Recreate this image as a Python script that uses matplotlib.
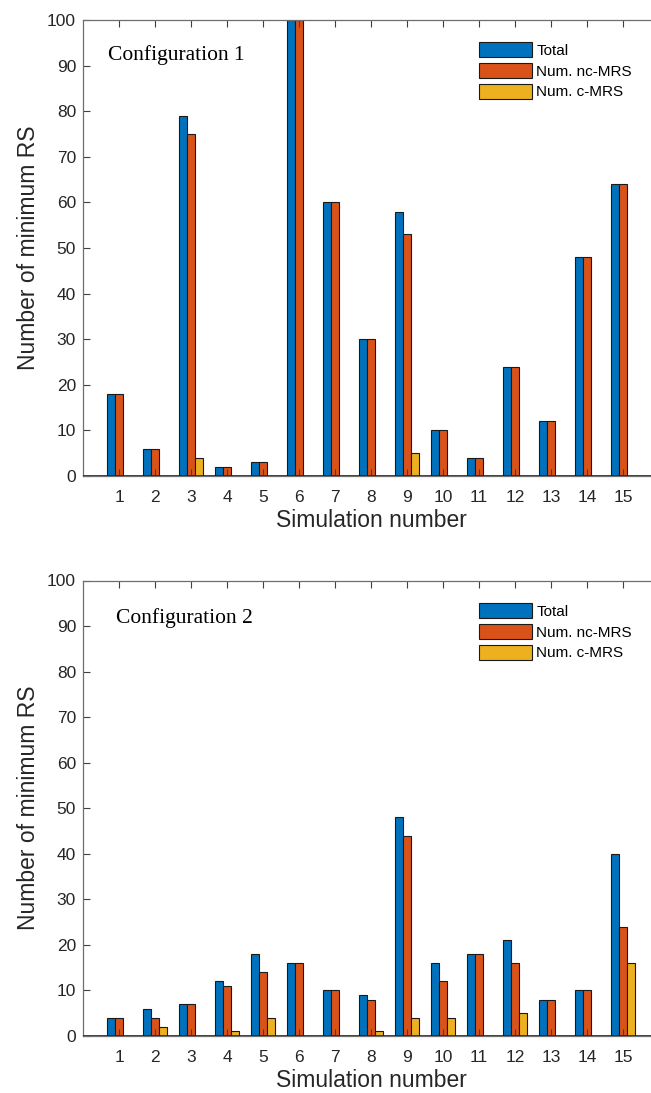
import numpy as np
import matplotlib.pyplot as plt

# output settings
plot_dpi = 100
plot_width = 6.51
plot_height = 10.93
plot_output = 'out.png'

# simulation numbers and bar data
sims = np.arange(1, 16)
labels = ['Total', 'Num. nc-MRS', 'Num. c-MRS']
colors = ['#0072BD', '#D95319', '#EDB120']

# configuration 1
cfg1_total = [18, 6, 79, 2, 3, 100, 60, 30, 58, 10, 4, 24, 12, 48, 64]
cfg1_nc = [18, 6, 75, 2, 3, 100, 60, 30, 53, 10, 4, 24, 12, 48, 64]
cfg1_c = [0, 0, 4, 0, 0, 0, 0, 0, 5, 0, 0, 0, 0, 0, 0]

# configuration 2
cfg2_total = [4, 6, 7, 12, 18, 16, 10, 9, 48, 16, 18, 21, 8, 10, 40]
cfg2_nc = [4, 4, 7, 11, 14, 16, 10, 8, 44, 12, 18, 16, 8, 10, 24]
cfg2_c = [0, 2, 0, 1, 4, 0, 0, 1, 4, 4, 0, 5, 0, 0, 16]

plt.rcParams['font.family'] = ['Liberation Sans', 'DejaVu Sans']

fig = plt.figure(figsize=(plot_width, plot_height), dpi=plot_dpi)
# x axis spans 0..16, its right end falls past the figure edge (cropped original)
ax1 = fig.add_axes([83 / 651, 1 - 476 / 1093, 576 / 651, 456 / 1093])
ax2 = fig.add_axes([83 / 651, 1 - 1036 / 1093, 576 / 651, 455.5 / 1093])

bw = 0.22
offsets = [-bw, 0.0, bw]


def draw_panel(ax, series, title, tx, ty, ly):
    for k, vals in enumerate(series):
        ax.bar(sims + offsets[k], vals, width=bw, color=colors[k],
               edgecolor='#1a1a1a', linewidth=0.8, label=labels[k])
    ax.axhline(0, color='#262626', linewidth=1.2, zorder=3)
    ax.set_xlim(0, 16)
    ax.set_ylim(0, 100)
    ax.set_xticks(sims)
    ax.set_yticks(np.arange(0, 101, 10))
    ax.tick_params(direction='in', length=5, width=0.8, colors='#404040',
                   labelcolor='#262626', labelsize=12.5, top=True, right=True)
    ax.tick_params(axis='x', pad=10)
    ax.tick_params(axis='y', pad=5)
    for s in ax.spines.values():
        s.set_color('#6e6e6e')
        s.set_linewidth(0.9)
    ax.set_xlabel('Simulation number', fontsize=16.5, color='#262626', labelpad=3)
    ax.set_ylabel('Number of minimum RS', fontsize=16.5, color='#262626', labelpad=5)
    ax.text(tx, ty, title, transform=ax.transAxes, fontsize=15.5,
            family='Liberation Serif', va='baseline', ha='left')
    ax.legend(loc='upper left', bbox_to_anchor=(0.6875, ly), frameon=False,
              fontsize=11, handlelength=3.46, handleheight=1.09,
              labelspacing=0.35, handletextpad=0.29, borderpad=0, borderaxespad=0)


draw_panel(ax1, [cfg1_total, cfg1_nc, cfg1_c], 'Configuration 1', 0.044, 0.912, 0.951)
draw_panel(ax2, [cfg2_total, cfg2_nc, cfg2_c], 'Configuration 2', 0.057, 0.907, 0.950)

fig.savefig(plot_output, dpi=plot_dpi)
